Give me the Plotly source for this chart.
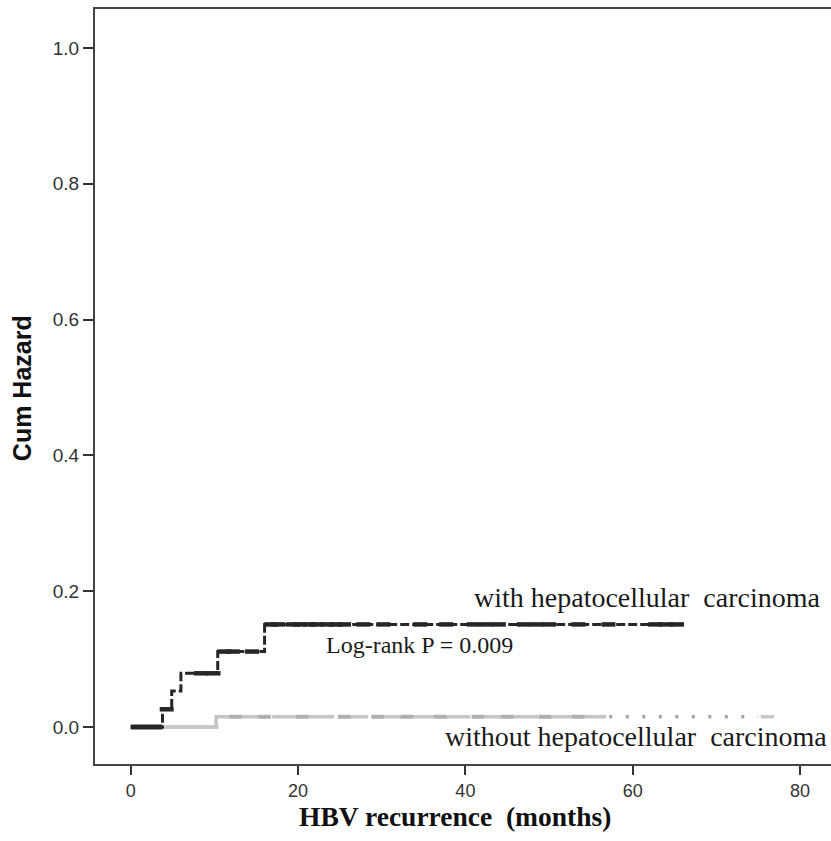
import numpy as np
import plotly.graph_objects as go

# ---- data ----
with_t = [0.0, 3.8, 4.9, 6.0, 10.4, 16.0, 65.6]
with_h = [0.0, 0.026, 0.053, 0.079, 0.111, 0.151, 0.151]
with_censor = [4.3, 8.4, 9.9, 11.2, 12.2, 14.5, 16.8, 17.6, 19.4, 20.2, 21.4, 22.2,
               23.5, 24.5, 25.5, 27.8, 30.2, 34.6, 37.7, 41.0, 42.5, 44.0, 47.0,
               48.5, 50.0, 53.5, 57.1, 62.7, 64.0, 65.3]
without_t = [0.0, 10.2, 76.9]
without_h = [0.0, 0.015, 0.015]
without_censor = [12.5, 16.0, 20.5, 25.5, 29.5, 33.0, 37.0, 41.5, 45.0, 49.5, 53.5]

x_ticks = [0, 20, 40, 60, 80]
y_ticks = [0.0, 0.2, 0.4, 0.6, 0.8, 1.0]

label_with = "with hepatocellular\u00a0 carcinoma"
label_without = "without hepatocellular\u00a0 carcinoma"
label_p = "Log-rank P = 0.009"
x_title = "<b>HBV recurrence\u00a0 (months)</b>"
y_title = "<b>Cum Hazard</b>"


def step_at(ts, hs, x):
    idx = np.searchsorted(np.asarray(ts), np.asarray(x), side="right") - 1
    idx = np.clip(idx, 0, len(hs) - 1)
    return np.asarray(hs)[idx]


def segment(ts, hs, a, b):
    xs = [a] + [t for t in ts if a < t < b] + [b]
    ys = list(step_at(ts, hs, xs))
    return xs, ys


fig = go.Figure()

# without HCC (grey) – drawn first, styled in pieces along its length
gsegs = [
    (without_t[0], 10.5, "solid", "#c8c8c8", 4, True),
    (10.0, 57.0, "28px,6px", "#c4c4c4", 3.5, False),
    (57.2, 75.0, "3px,13.5px", "#a4a4a4", 3.5, False),
    (75.3, without_t[-1], "solid", "#c8c8c8", 3.5, False),
]
for a, b, dash, col, w, first in gsegs:
    if first:
        xs, ys = [a, b], [without_h[0], without_h[0]]
    else:
        xs, ys = segment(without_t, without_h, a, b)
    fig.add_trace(go.Scatter(x=xs, y=ys, mode="lines", line_shape="hv",
                             line=dict(color=col, width=w, dash=dash),
                             hoverinfo="skip", showlegend=False))

fig.add_trace(go.Scatter(x=without_censor, y=step_at(without_t, without_h, without_censor),
                         mode="markers", hoverinfo="skip", showlegend=False,
                         marker=dict(symbol="line-ew", size=9,
                                     line=dict(color="#b0b0b0", width=4))))

# with HCC (black)
fig.add_trace(go.Scatter(x=with_t, y=with_h, mode="lines", line_shape="hv",
                         line=dict(color="#262626", width=3, dash="9px,3px"),
                         hoverinfo="skip", showlegend=False))
fig.add_trace(go.Scatter(x=[with_t[0], with_t[1]], y=[with_h[0], with_h[0]], mode="lines",
                         line=dict(color="#262626", width=5),
                         hoverinfo="skip", showlegend=False))
fig.add_trace(go.Scatter(x=with_censor, y=step_at(with_t, with_h, with_censor),
                         mode="markers", hoverinfo="skip", showlegend=False,
                         marker=dict(symbol="line-ew", size=10,
                                     line=dict(color="#262626", width=4.5))))

serif = "Liberation Serif, Times New Roman, serif"
sans = "Liberation Sans, Arial, sans-serif"

fig.add_annotation(x=61.8, y=0.190, text=label_with, showarrow=False,
                   font=dict(family=serif, size=28, color="#1a1a1a"))
fig.add_annotation(x=34.5, y=0.121, text=label_p, showarrow=False,
                   font=dict(family=serif, size=24, color="#1a1a1a"))
fig.add_annotation(x=60.4, y=-0.0147, text=label_without, showarrow=False,
                   font=dict(family=serif, size=28, color="#1a1a1a"))

# axis titles as annotations in paper coordinates (plot area: x 95..831, y 9..764)
fig.add_annotation(xref="paper", yref="paper", x=0.489, y=-0.0695, text=x_title,
                   showarrow=False, xanchor="center", yanchor="middle",
                   font=dict(family=serif, size=27.5, color="#111"))
fig.add_annotation(xref="paper", yref="paper", x=-0.099, y=0.498, text=y_title,
                   showarrow=False, xanchor="center", yanchor="middle", textangle=-90,
                   font=dict(family=sans, size=25, color="#111"))

fig.update_xaxes(range=[-4.27, 83.7], tickvals=x_ticks, ticks="outside", ticklen=9,
                 tickwidth=2, tickcolor="#333", showline=True, linecolor="#444",
                 linewidth=2, mirror=True, showgrid=False, zeroline=False,
                 tickfont=dict(family=sans, size=18, color="#333"))
fig.update_yaxes(range=[-0.0546, 1.0575], tickvals=y_ticks, tickformat=".1f",
                 ticks="outside", ticklen=10, tickwidth=2, tickcolor="#333",
                 showline=True, linecolor="#444", linewidth=2, showgrid=False,
                 mirror=False, zeroline=False,
                 tickfont=dict(family=sans, size=19, color="#333"))

fig.update_layout(width=831, height=841, margin=dict(l=95, r=0, t=9, b=77),
                  plot_bgcolor="white", paper_bgcolor="white", showlegend=False)

fig.write_html("out.html", config={"displayModeBar": False},
               post_script="document.body.style.margin='0';"
                           "document.body.style.overflow='hidden';")
